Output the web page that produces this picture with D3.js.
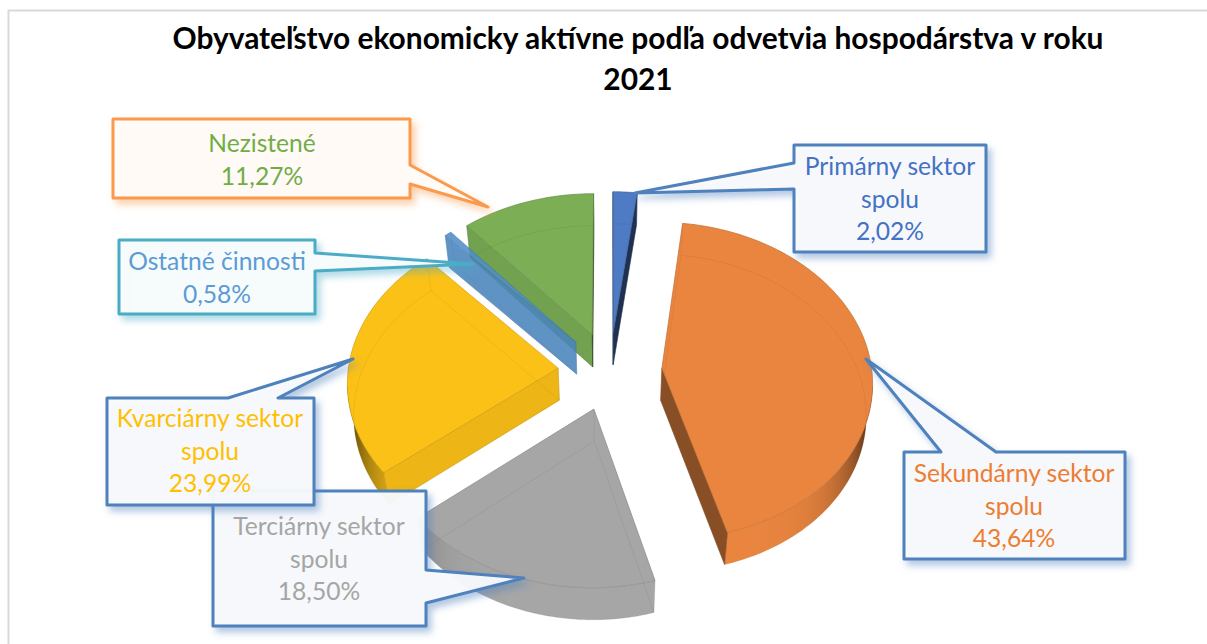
<!DOCTYPE html>
<html>
<head>
<meta charset="utf-8">
<script src="https://cdn.jsdelivr.net/npm/d3@7"></script>
<style>
  html, body { margin: 0; padding: 0; background: #fff; }
  svg { display: block; }
  text { font-family: Lato, "Open Sans", sans-serif; }
</style>
</head>
<body>
<div id="chart"></div>
<script>
const categories = ["Primárny sektor spolu", "Sekundárny sektor spolu", "Terciárny sektor spolu",
                    "Kvarciárny sektor spolu", "Ostatné činnosti", "Nezistené"];
const shares = [2.02, 43.64, 18.50, 23.99, 0.58, 11.27];
const titleLines = ["Obyvateľstvo ekonomicky aktívne podľa odvetvia hospodárstva v roku", "2021"];

const width = 1207, height = 644;
const sliceColors = ["#4f7ac4", "#e9853f", "#a6a6a6", "#fcc116", "#4f8fcb", "#7bae55"];
const labelColors = ["#4472c4", "#ed7d31", "#a5a5a5", "#ffc000", "#5b9bd5", "#70ad47"];

// perspective of the tilted pie, fitted by eye
const explode = 0.248, persp = 0.08, depth = 32, bottomScale = 0.976;
const sx = d3.scaleLinear().domain([-1, 1]).range([400, 820]);
const sy = d3.scaleLinear().domain([-1, 1]).range([529, 213]);
const project = (X, Y) => {
  const w = 1 + persp * Y;
  return [sx(X / w), sy(Y / w)];
};

const svg = d3.select("#chart").append("svg").attr("width", width).attr("height", height);
const defs = svg.append("defs");

function shadow(id, color) {
  defs.append("filter").attr("id", id)
      .attr("x", "-10%").attr("y", "-10%").attr("width", "125%").attr("height", "125%")
      .append("feDropShadow")
      .attr("dx", 4).attr("dy", 5).attr("stdDeviation", 3.5)
      .attr("flood-color", color).attr("flood-opacity", 0.45);
}
shadow("sh-blue", "#4f81bd");
shadow("sh-orange", "#f79646");
shadow("sh-teal", "#4bacc6");

// frame
svg.append("path").attr("d", `M8.5,${height}V10.5H${width}`)
    .attr("fill", "none").attr("stroke", "#d9d9d9").attr("stroke-width", 2);

// title
svg.append("g").selectAll("text").data(titleLines).join("text")
    .attr("x", 638).attr("y", (d, i) => 49 + i * 41)
    .attr("text-anchor", "middle")
    .attr("font-size", 29.9).attr("font-weight", 700).attr("fill", "#000")
    .text(d => d);

const pie = d3.pie().sort(null).value(d => d)(shares);
const line = d3.line();
// the bottom face is further from the camera, so it comes out a little narrower
const down = p => [sx(0) + (p[0] - sx(0)) * bottomScale, p[1] + depth];
const shade = (c, t) => d3.interpolateRgb(c, "#000")(t);

const slices = pie.map(d => {
  const mid = (d.startAngle + d.endAngle) / 2;
  const ox = explode * Math.sin(mid), oy = explode * Math.cos(mid);
  const n = Math.max(2, Math.ceil((d.endAngle - d.startAngle) / 0.02));
  const angles = d3.range(n + 1).map(i => d.startAngle + (d.endAngle - d.startAngle) * i / n);
  const rim = angles.map(a => project(ox + Math.sin(a), oy + Math.cos(a)));
  const apex = project(ox, oy);
  return { i: d.index, mid, angles, rim, apex, color: sliceColors[d.index] };
}).sort((a, b) => Math.cos(b.mid) - Math.cos(a.mid));

slices.forEach(s => {
  const g = svg.append("g").attr("opacity", s.i === 4 ? 0.88 : 1);
  const n = s.rim.length - 1;

  // rim wall: only the part running right to left faces the viewer,
  // shaded by a gradient along x that follows the angle
  const front = d3.range(n + 1).filter(k =>
    (k < n && s.rim[k + 1][0] < s.rim[k][0]) || (k > 0 && s.rim[k][0] < s.rim[k - 1][0]));
  if (front.length > 1) {
    const top = front.map(k => s.rim[k]);
    const [xMin, xMax] = d3.extent(top, p => p[0]);
    const id = `wall-${s.i}`;
    const grad = defs.append("linearGradient").attr("id", id)
        .attr("gradientUnits", "userSpaceOnUse")
        .attr("x1", xMin).attr("x2", xMax).attr("y1", 0).attr("y2", 0);
    front.slice().reverse().forEach(k => {
      const t = Math.pow(Math.abs(Math.sin(s.angles[k])), 6);
      grad.append("stop")
          .attr("offset", (s.rim[k][0] - xMin) / Math.max(1, xMax - xMin))
          .attr("stop-color", shade(s.color, 0.82 * t));
    });
    g.append("path").attr("d", line([...top, ...top.map(down).reverse()]) + "Z")
        .attr("fill", `url(#${id})`);
  }

  // straight walls that face the viewer
  const inner = s.rim[Math.floor(n / 2)];
  [[0, s.angles[0] - Math.PI / 2], [n, s.angles[n] + Math.PI / 2]].forEach(([k, normal]) => {
    const b = s.rim[k];
    const ex = b[0] - s.apex[0], ey = b[1] - s.apex[1];
    const sideDown = ex * depth;
    const sideFace = ex * (inner[1] - s.apex[1]) - ey * (inner[0] - s.apex[0]);
    if (sideDown * sideFace >= 0) return;
    const t = 0.06 + 0.6 * Math.pow(Math.abs(Math.sin(normal)), 14);
    g.append("path").attr("d", line([s.apex, b, down(b), down(s.apex)]) + "Z")
        .attr("fill", shade(s.color, t))
        .attr("stroke", shade(s.color, t + 0.1)).attr("stroke-width", 0.5);
  });

  // top face
  g.append("path").attr("d", line([s.apex, ...s.rim]) + "Z")
      .attr("fill", s.color)
      .attr("stroke", shade(s.color, 0.18)).attr("stroke-width", 0.7);

  // faint outline of the bottom face, seen through the top
  const ghost = [down(s.apex), ...s.rim.map(down), down(s.apex)];
  const ghostColor = shade(s.color, 0.3);
  g.append("path").attr("d", line(ghost))
      .attr("fill", "none").attr("stroke", ghostColor).attr("stroke-width", 0.8).attr("stroke-opacity", 0.22);
  [s.apex, s.rim[0], s.rim[n]].forEach(p => {
    g.append("path").attr("d", line([p, down(p)]))
        .attr("fill", "none").attr("stroke", ghostColor).attr("stroke-width", 0.8).attr("stroke-opacity", 0.22);
  });
});

// callouts, drawn in this order so that the kvarciárny box sits over the terciárny one
const callouts = [
  { i: 0, x0: 794, x1: 986, y0: 145, y1: 252, side: "left", b0: 163, b1: 189, tip: [635, 193],
    stroke: "#4f81bd", fill: "#f8fafc", sh: "sh-blue", cx: 890, lines: ["Primárny sektor", "spolu", "2,02%"], base: 175 },
  { i: 1, x0: 904, x1: 1125, y0: 452, y1: 559, side: "top", b0: 941, b1: 996, tip: [866, 359],
    stroke: "#4f81bd", fill: "#f8fafc", sh: "sh-blue", cx: 1014, lines: ["Sekundárny sektor", "spolu", "43,64%"], base: 482 },
  { i: 2, x0: 213, x1: 426, y0: 491, y1: 626, side: "right", b0: 570, b1: 603, tip: [524, 578],
    stroke: "#4f81bd", fill: "#f8fafc", sh: "sh-blue", cx: 319, lines: ["Terciárny sektor", "spolu", "18,50%"], base: 535 },
  { i: 3, x0: 107, x1: 314, y0: 398, y1: 505, side: "top", b0: 228, b1: 278, tip: [353, 359],
    stroke: "#4f81bd", fill: "#f8fafc", sh: "sh-blue", cx: 210, lines: ["Kvarciárny sektor", "spolu", "23,99%"], base: 427 },
  { i: 4, x0: 119, x1: 315, y0: 240, y1: 314, side: "right", b0: 253, b1: 271, tip: [473, 264],
    stroke: "#4bacc6", fill: "#f8fcfd", sh: "sh-teal", cx: 217, lines: ["Ostatné činnosti", "0,58%"], base: 270 },
  { i: 5, x0: 113, x1: 410, y0: 119, y1: 198, side: "right", b0: 165, b1: 184, tip: [488, 207],
    stroke: "#fb9a4e", fill: "#fffcf9", sh: "sh-orange", cx: 262, lines: ["Nezistené", "11,27%"], base: 152 }
];

function outline(c) {
  if (c.side === "left")
    return [[c.x0, c.y0], [c.x1, c.y0], [c.x1, c.y1], [c.x0, c.y1], [c.x0, c.b1], c.tip, [c.x0, c.b0]];
  if (c.side === "right")
    return [[c.x0, c.y0], [c.x1, c.y0], [c.x1, c.b0], c.tip, [c.x1, c.b1], [c.x1, c.y1], [c.x0, c.y1]];
  return [[c.x0, c.y0], [c.b0, c.y0], c.tip, [c.b1, c.y0], [c.x1, c.y0], [c.x1, c.y1], [c.x0, c.y1]];
}

callouts.forEach(c => {
  const g = svg.append("g");
  g.append("path").attr("d", line(outline(c)) + "Z")
      .attr("fill", c.fill).attr("fill-opacity", 0.95)
      .attr("stroke", c.stroke).attr("stroke-width", 3).attr("stroke-linejoin", "round")
      .attr("filter", `url(#${c.sh})`);
  g.selectAll("text").data(c.lines).join("text")
      .attr("x", c.cx).attr("y", (d, k) => c.base + k * 32.7)
      .attr("text-anchor", "middle")
      .attr("font-size", 24.6)
      .attr("fill", labelColors[c.i])
      .text(d => d);
});
</script>
</body>
</html>
